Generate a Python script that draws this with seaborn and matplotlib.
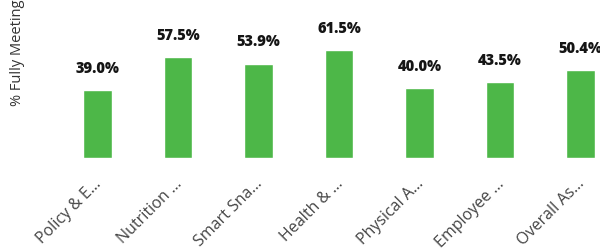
import matplotlib
matplotlib.use("Agg")
import matplotlib.pyplot as plt
import matplotlib.transforms as mtransforms
import seaborn as sns
import pandas as pd

categories = ["Policy & E...", "Nutrition ...", "Smart Sna...", "Health & ...",
              "Physical A...", "Employee ...", "Overall As..."]
values = [39.0, 57.5, 53.9, 61.5, 40.0, 43.5, 50.4]
value_labels = ["39.0%", "57.5%", "53.9%", "61.5%", "40.0%", "43.5%", "50.4%"]

sns.set_theme(style="white")
plt.rcParams['font.family'] = ['Open Sans', 'DejaVu Sans']

df = pd.DataFrame({"cat": categories, "val": values})

fig = plt.figure(figsize=(6.0, 2.52), dpi=100)
W, H = 600, 252
left_px, width_px = 57.25, 563.5
base_px, top_px = 158, 0
ax = fig.add_axes([left_px / W, (H - base_px) / H, width_px / W, (base_px - top_px) / H])

sns.barplot(data=df, x="cat", y="val", color="#4DB748", saturation=1,
            width=0.36, ax=ax)
ax.set_xlim(-0.5, 6.5)
ax.set_ylim(0, 158 / 1.75)

for p, lab in zip(ax.patches, value_labels):
    x = p.get_x() + p.get_width() / 2
    ax.annotate(lab, (x, p.get_height()), xytext=(0, 9.5), textcoords="offset points",
                ha="center", va="bottom", fontsize=10.5, fontweight="heavy", color="#151515")

for s in ax.spines.values():
    s.set_visible(False)
ax.set_yticks([])
ax.set_xlabel("")
ax.set_ylabel("% Fully Meeting", fontsize=10.5, color="#333333")
ax.yaxis.set_label_coords((25 - left_px) / width_px, (base_px - 53) / base_px)
ax.tick_params(axis="x", length=0, pad=13)
offset = mtransforms.ScaledTranslation(-4 / 100, 0, fig.dpi_scale_trans)
for lbl in ax.get_xticklabels():
    lbl.set_rotation(45)
    lbl.set_ha("right")
    lbl.set_rotation_mode("anchor")
    lbl.set_fontsize(11.5)
    lbl.set_color("#444444")
    lbl.set_transform(lbl.get_transform() + offset)

fig.savefig("out.png", dpi=100)
